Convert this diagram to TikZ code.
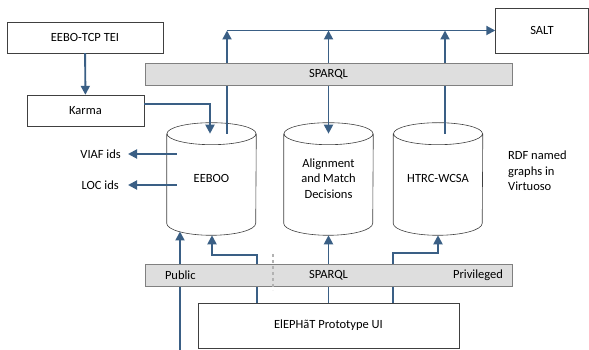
\documentclass[tikz,border=0pt]{standalone}
\usepackage{fontspec}
\setmainfont{Carlito}
\usetikzlibrary{arrows.meta,calc}
\definecolor{flowblue}{HTML}{3A5F85}
\definecolor{barfill}{HTML}{DEDEDE}
\tikzset{
  box/.style={draw=black!75, fill=white, minimum height=31, inner sep=0},
  bar/.style={draw=black!50, fill=barfill, minimum width=367, minimum height=22, inner sep=0},
  db/.style={minimum width=89, minimum height=89, align=center, inner sep=0, text=black,
    append after command={
      (\tikzlastnode.north west) -- (\tikzlastnode.south west)
        arc[start angle=180, end angle=360, x radius=44.5pt, y radius=12pt]
        -- (\tikzlastnode.north east)
      (\tikzlastnode.north) ellipse[x radius=44.5pt, y radius=11pt]}},
  flow/.style={draw=flowblue, line width=1.9pt, -{Triangle[width=9pt,length=9pt]}},
  biflow/.style={flow, {Triangle[width=9pt,length=9pt]}-{Triangle[width=9pt,length=9pt]}}
}
\begin{document}
\begin{tikzpicture}[x=1pt, y=1pt, font=\fontsize{12.5}{15.5}\selectfont]
                \useasboundingbox (0,0) rectangle (589,350);
                \node (tei) [box, minimum width=156] at (85,312.5) {EEBO-TCP TEI};
                \node (karma) [box, minimum width=117] at (85.5,239.5) {Karma};
                \node (salt) [box, minimum width=93, minimum height=45] at (542,319.5) {SALT};
                \node (ui) [box, minimum width=261, minimum height=45] at (328.5,24.5) {ElEPHãT Prototype UI};
                \draw[black!75, line width=0.6pt]
                    node (eeboo) [db] at (211.5,171.5) {EEBOO}
                    node (align) [db] at (328.5,171.5) {Alignment\\and Match\\Decisions}
                    node (htrc) [db] at (438,171.5) {HTRC-WCSA};
                \node (rdf) [align=left, anchor=north west, inner sep=0] at (508,199) {RDF named\\graphs in\\Virtuoso};
                \node (viaf) [anchor=east, inner sep=0] at (121,196) {VIAF ids};
                \node (loc) [anchor=east, inner sep=0] at (119,165) {LOC ids};
                % links to the stores
                \draw[flow] (tei) -- (karma);
                \draw[flow] ([yshift=6.5]karma.east) -| ([xshift=-1.5]eeboo.north);
                \coordinate (bus) at ([xshift=15.5]eeboo.north |- salt.west);
                \draw[flow] ([xshift=15.5]eeboo.north) -- (bus);
                \draw[flow] (bus) -- (salt.west);
                \draw[biflow] (align.north) -- (align.north |- salt.west);
                \draw[flow] ([xshift=7]htrc.north) -- ([xshift=7]htrc.north |- salt.west);
                \draw[flow] ([xshift=10]eeboo.west |- viaf.east) -- ([xshift=7]viaf.east);
                \draw[flow] ([xshift=10]eeboo.west |- loc.east) -- ([xshift=9]loc.east);
                % links from the UI
                \coordinate (pub) at (180,0);
                \draw[flow] (pub) -- (180,118.5);
                \draw[flow] ([xshift=-71.5]ui.north) |- (212,95) -- ([xshift=0.5,yshift=-12]eeboo.south);
                \draw[flow] (ui.north) -- ([yshift=-12]align.south);
                \draw[flow] ([xshift=64.5]ui.north) |- (438,97) -- ([yshift=-12]htrc.south);
                \node (sparqltop) [bar] at (328.5,276) {SPARQL};
                \node (sparqlbot) [bar] at (328.5,75) {SPARQL};
                \node (public) [anchor=west, inner sep=0] at ([xshift=20]sparqlbot.west) {Public};
                \node (priv) [anchor=east, inner sep=0] at ([xshift=-9]sparqlbot.east) {Privileged};
                \draw[black!30, line width=1.2pt, dashed] (273,96) -- (273,60);
            \end{tikzpicture}
\end{document}
